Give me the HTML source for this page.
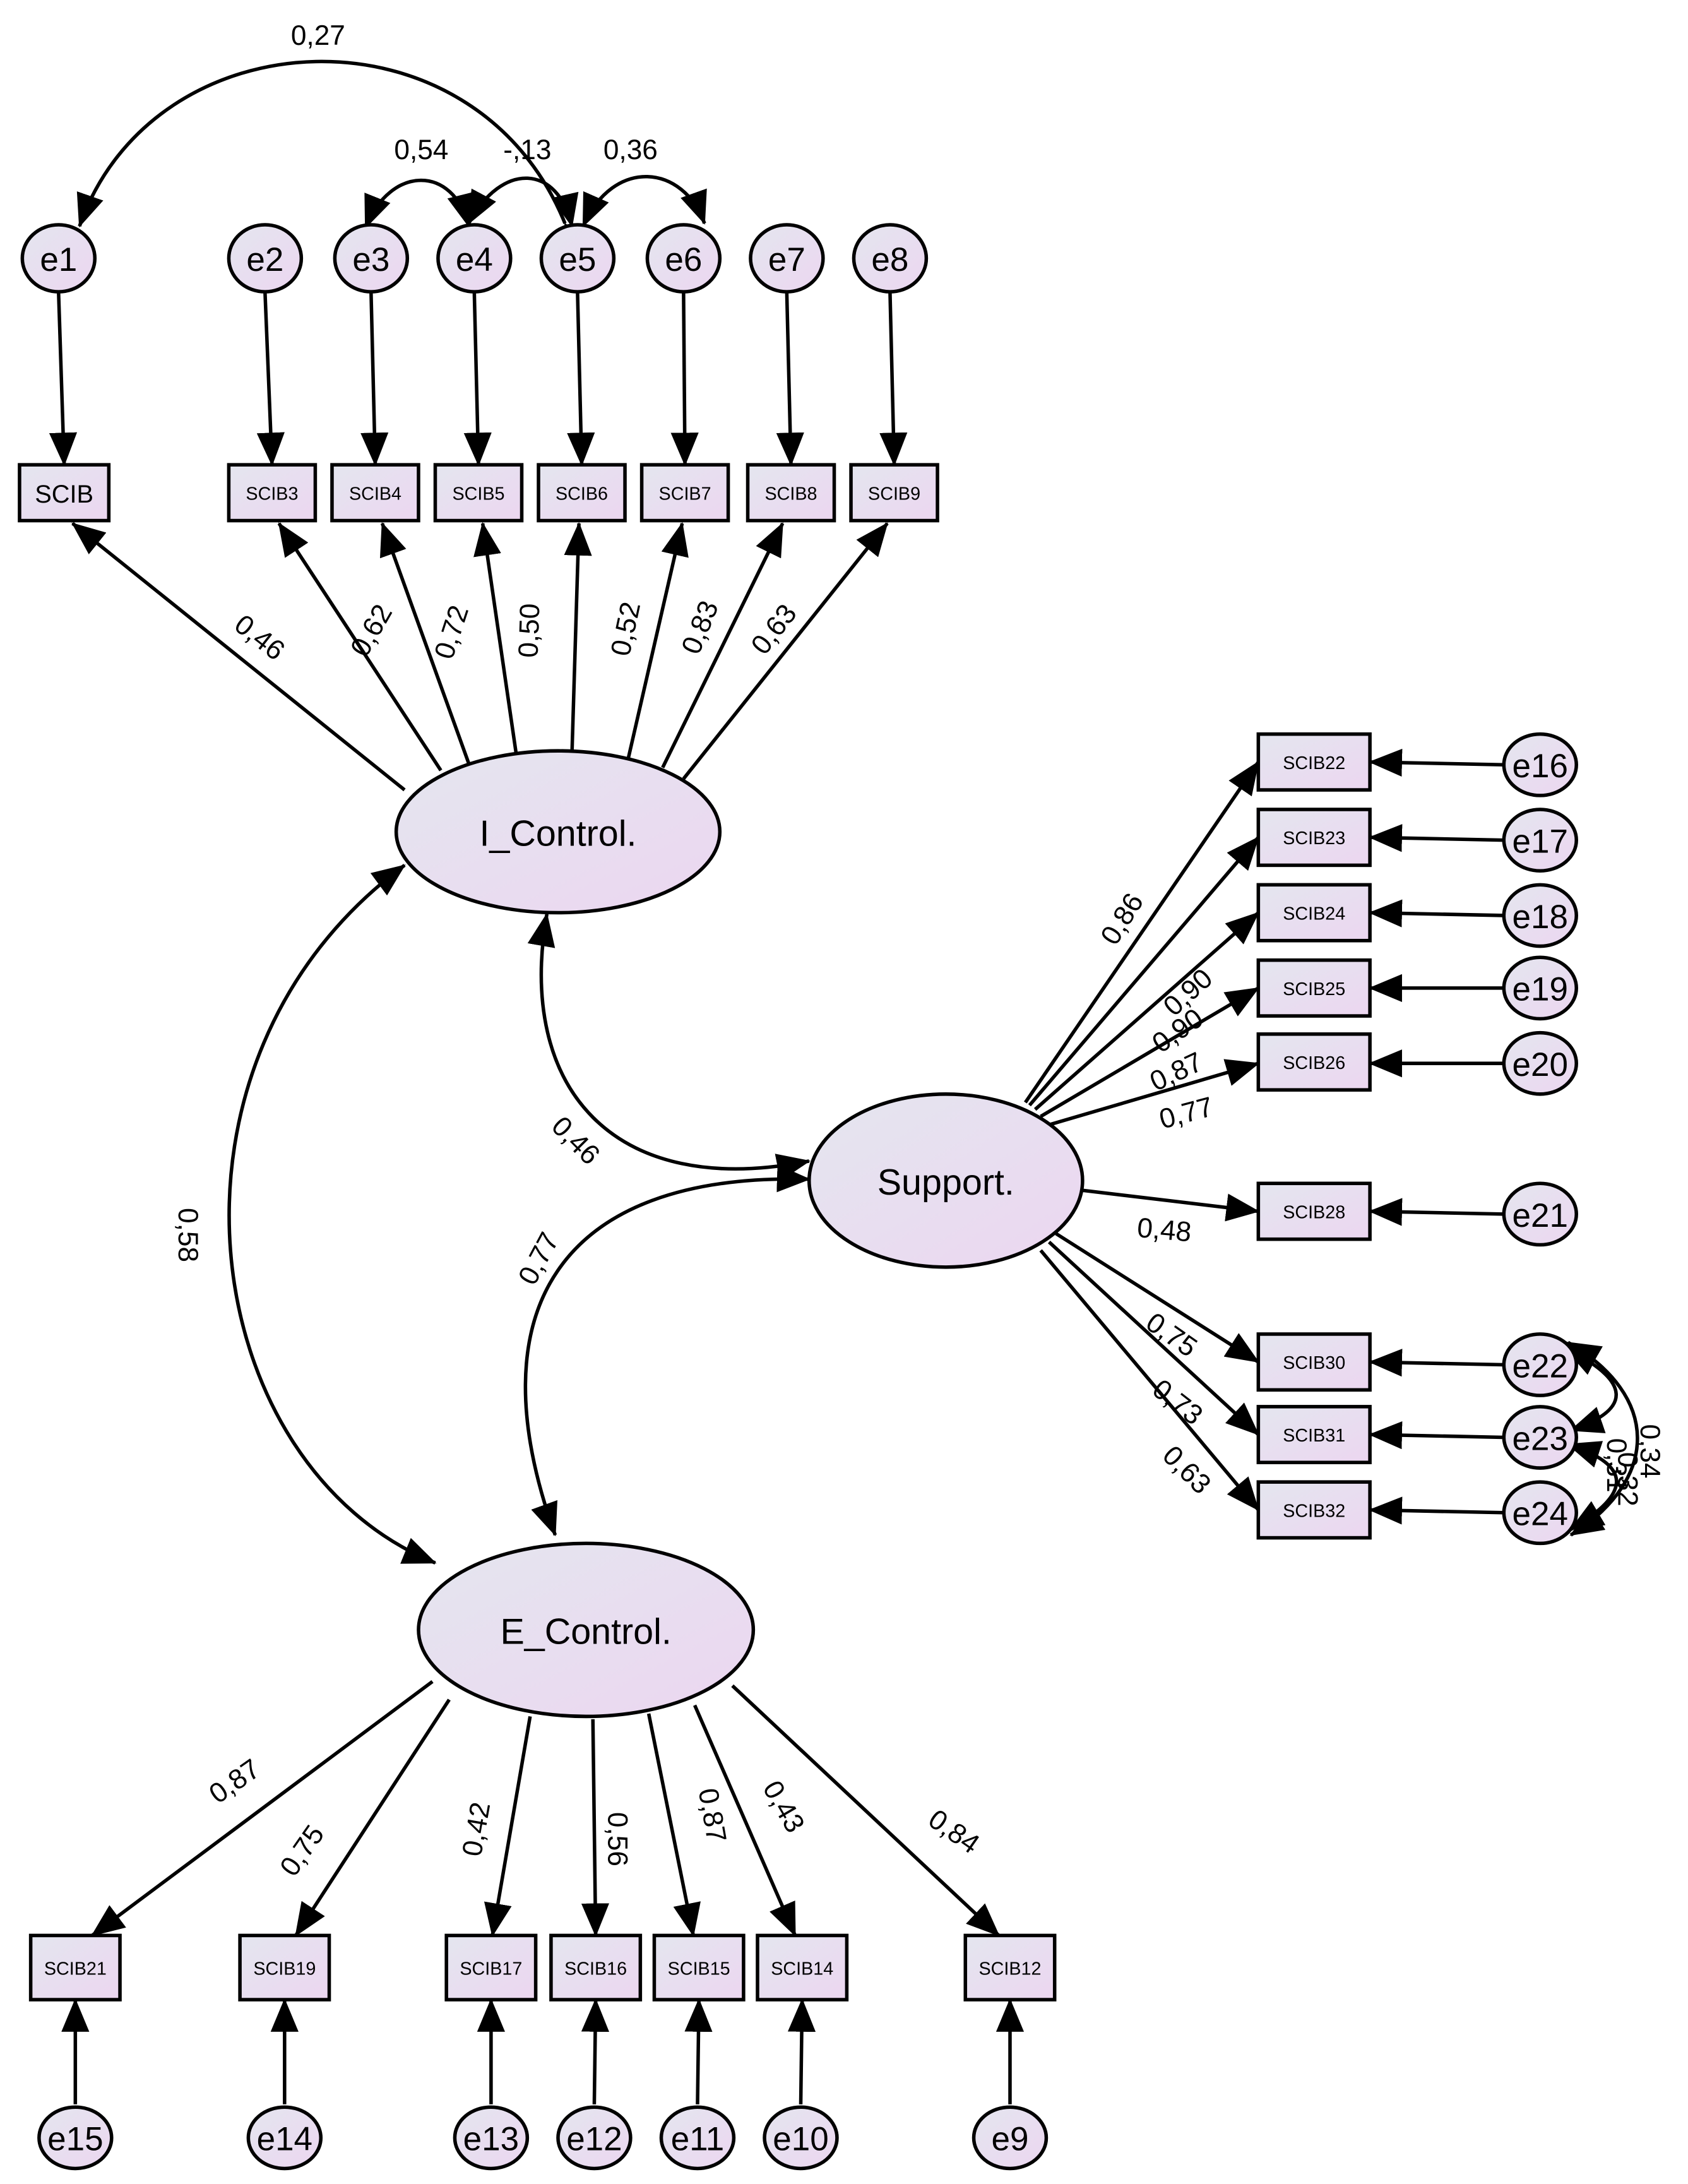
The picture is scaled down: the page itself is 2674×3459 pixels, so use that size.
<!DOCTYPE html>
<html><head><meta charset="utf-8"><style>html,body{margin:0;padding:0;background:#fff}svg{display:block}</style></head>
<body>
<svg width="2674" height="3459" viewBox="0 0 1210 1565" xmlns="http://www.w3.org/2000/svg" font-family="Liberation Sans, Arial, sans-serif">
<defs>
<linearGradient id="g" x1="0" y1="0" x2="1" y2="1"><stop offset="0" stop-color="#e4e6ef"/><stop offset="1" stop-color="#ecd6f0"/></linearGradient>
<marker id="a" markerWidth="24" markerHeight="20" refX="23" refY="10" orient="auto" markerUnits="userSpaceOnUse"><path d="M0,0 L24,10 L0,20 z" fill="#000"/></marker>
<marker id="s" markerWidth="24" markerHeight="20" refX="1" refY="10" orient="auto" markerUnits="userSpaceOnUse"><path d="M24,0 L0,10 L24,20 z" fill="#000"/></marker>
</defs>
<g stroke="#000" stroke-width="2.5" fill="none">
<!-- top error arrows -->
<line x1="42" y1="210" x2="46" y2="333" marker-end="url(#a)"/>
<line x1="190" y1="210" x2="195" y2="333" marker-end="url(#a)"/>
<line x1="266" y1="210" x2="269" y2="333" marker-end="url(#a)"/>
<line x1="340" y1="210" x2="343" y2="333" marker-end="url(#a)"/>
<line x1="414" y1="210" x2="417" y2="333" marker-end="url(#a)"/>
<line x1="490" y1="210" x2="491" y2="333" marker-end="url(#a)"/>
<line x1="564" y1="210" x2="567" y2="333" marker-end="url(#a)"/>
<line x1="638" y1="210" x2="641" y2="333" marker-end="url(#a)"/>
<!-- loadings top -->
<line x1="290" y1="566" x2="52" y2="375" marker-end="url(#a)"/>
<line x1="316" y1="552" x2="200" y2="375" marker-end="url(#a)"/>
<line x1="336" y1="547" x2="274" y2="375" marker-end="url(#a)"/>
<line x1="370" y1="540" x2="346" y2="375" marker-end="url(#a)"/>
<line x1="410" y1="540" x2="415" y2="375" marker-end="url(#a)"/>
<line x1="450" y1="545" x2="489" y2="375" marker-end="url(#a)"/>
<line x1="475" y1="550" x2="561" y2="375" marker-end="url(#a)"/>
<line x1="490" y1="558" x2="636" y2="375" marker-end="url(#a)"/>
<!-- top covariances -->
<path d="M405,160 C340,0 110,10 57,162" marker-end="url(#a)" marker-start="url(#a)"/>
<path d="M262,163 C280,118 325,118 336,162" marker-end="url(#a)" marker-start="url(#s)"/>
<path d="M336,160 C360,115 400,118 410,162" marker-end="url(#a)" marker-start="url(#s)"/>
<path d="M418,162 C440,112 490,118 505,160" marker-end="url(#a)" marker-start="url(#s)"/>
<!-- factor covariances -->
<path d="M290,620 C100,760 140,1050 312,1120" marker-end="url(#a)" marker-start="url(#s)"/>
<path d="M392,655 C370,780 440,860 580,832" marker-end="url(#a)" marker-start="url(#s)"/>
<path d="M398,1100 C340,940 400,840 580,845" marker-end="url(#a)" marker-start="url(#s)"/>
<!-- support loadings -->
<line x1="735" y1="790" x2="902" y2="546" marker-end="url(#a)"/>
<line x1="738" y1="792" x2="902" y2="600" marker-end="url(#a)"/>
<line x1="742" y1="795" x2="902" y2="654" marker-end="url(#a)"/>
<line x1="746" y1="800" x2="902" y2="708" marker-end="url(#a)"/>
<line x1="752" y1="806" x2="902" y2="762" marker-end="url(#a)"/>
<line x1="776" y1="853" x2="902" y2="868" marker-end="url(#a)"/>
<line x1="757" y1="884" x2="902" y2="976" marker-end="url(#a)"/>
<line x1="752" y1="890" x2="902" y2="1028" marker-end="url(#a)"/>
<line x1="746" y1="896" x2="902" y2="1082" marker-end="url(#a)"/>
<!-- right errors -->
<line x1="1078" y1="548" x2="982" y2="546" marker-end="url(#a)"/>
<line x1="1078" y1="602" x2="982" y2="600" marker-end="url(#a)"/>
<line x1="1078" y1="656" x2="982" y2="654" marker-end="url(#a)"/>
<line x1="1078" y1="708" x2="982" y2="708" marker-end="url(#a)"/>
<line x1="1078" y1="762" x2="982" y2="762" marker-end="url(#a)"/>
<line x1="1078" y1="870" x2="982" y2="868" marker-end="url(#a)"/>
<line x1="1078" y1="978" x2="982" y2="976" marker-end="url(#a)"/>
<line x1="1078" y1="1030" x2="982" y2="1028" marker-end="url(#a)"/>
<line x1="1078" y1="1084" x2="982" y2="1082" marker-end="url(#a)"/>
<path d="M1122,966 C1170,990 1170,1010 1126,1025" marker-end="url(#a)" marker-start="url(#s)"/>
<path d="M1124,1035 C1170,1050 1170,1070 1126,1096" marker-end="url(#a)" marker-start="url(#s)"/>
<path d="M1124,962 C1190,1000 1190,1060 1126,1100" marker-end="url(#a)" marker-start="url(#s)"/>
<!-- bottom loadings -->
<line x1="310" y1="1205" x2="66" y2="1387" marker-end="url(#a)"/>
<line x1="322" y1="1218" x2="212" y2="1387" marker-end="url(#a)"/>
<line x1="380" y1="1230" x2="353" y2="1387" marker-end="url(#a)"/>
<line x1="425" y1="1232" x2="427" y2="1387" marker-end="url(#a)"/>
<line x1="465" y1="1228" x2="497" y2="1387" marker-end="url(#a)"/>
<line x1="498" y1="1222" x2="570" y2="1387" marker-end="url(#a)"/>
<line x1="525" y1="1208" x2="716" y2="1387" marker-end="url(#a)"/>
<!-- bottom errors -->
<line x1="54" y1="1508" x2="54" y2="1433" marker-end="url(#a)"/>
<line x1="204" y1="1508" x2="204" y2="1433" marker-end="url(#a)"/>
<line x1="352" y1="1508" x2="352" y2="1433" marker-end="url(#a)"/>
<line x1="426" y1="1508" x2="427" y2="1433" marker-end="url(#a)"/>
<line x1="500" y1="1508" x2="501" y2="1433" marker-end="url(#a)"/>
<line x1="574" y1="1508" x2="575" y2="1433" marker-end="url(#a)"/>
<line x1="724" y1="1508" x2="724" y2="1433" marker-end="url(#a)"/>
</g>
<!-- nodes -->
<g stroke="#000" stroke-width="2.5" fill="url(#g)">
<ellipse cx="400" cy="596" rx="116" ry="58"/>
<ellipse cx="678" cy="846" rx="98" ry="62"/>
<ellipse cx="420" cy="1168" rx="120" ry="62"/>
<g id="tc">
<ellipse cx="42" cy="185" rx="26" ry="24"/><ellipse cx="190" cy="185" rx="26" ry="24"/><ellipse cx="266" cy="185" rx="26" ry="24"/><ellipse cx="340" cy="185" rx="26" ry="24"/><ellipse cx="414" cy="185" rx="26" ry="24"/><ellipse cx="490" cy="185" rx="26" ry="24"/><ellipse cx="564" cy="185" rx="26" ry="24"/><ellipse cx="638" cy="185" rx="26" ry="24"/>
</g>
<rect x="14" y="333" width="64" height="40"/><rect x="164" y="333" width="62" height="40"/><rect x="238" y="333" width="62" height="40"/><rect x="312" y="333" width="62" height="40"/><rect x="386" y="333" width="62" height="40"/><rect x="460" y="333" width="62" height="40"/><rect x="536" y="333" width="62" height="40"/><rect x="610" y="333" width="62" height="40"/>
<rect x="902" y="526" width="80" height="40"/><rect x="902" y="580" width="80" height="40"/><rect x="902" y="634" width="80" height="40"/><rect x="902" y="688" width="80" height="40"/><rect x="902" y="741" width="80" height="40"/><rect x="902" y="848" width="80" height="40"/><rect x="902" y="956" width="80" height="40"/><rect x="902" y="1008" width="80" height="40"/><rect x="902" y="1062" width="80" height="40"/>
<ellipse cx="1104" cy="548" rx="26" ry="22"/><ellipse cx="1104" cy="602" rx="26" ry="22"/><ellipse cx="1104" cy="656" rx="26" ry="22"/><ellipse cx="1104" cy="708" rx="26" ry="22"/><ellipse cx="1104" cy="762" rx="26" ry="22"/><ellipse cx="1104" cy="870" rx="26" ry="22"/><ellipse cx="1104" cy="978" rx="26" ry="22"/><ellipse cx="1104" cy="1030" rx="26" ry="22"/><ellipse cx="1104" cy="1084" rx="26" ry="22"/>
<rect x="22" y="1387" width="64" height="46"/><rect x="172" y="1387" width="64" height="46"/><rect x="320" y="1387" width="64" height="46"/><rect x="395" y="1387" width="64" height="46"/><rect x="469" y="1387" width="64" height="46"/><rect x="543" y="1387" width="64" height="46"/><rect x="692" y="1387" width="64" height="46"/>
<ellipse cx="54" cy="1532" rx="26" ry="22"/><ellipse cx="204" cy="1532" rx="26" ry="22"/><ellipse cx="352" cy="1532" rx="26" ry="22"/><ellipse cx="426" cy="1532" rx="26" ry="22"/><ellipse cx="500" cy="1532" rx="26" ry="22"/><ellipse cx="574" cy="1532" rx="26" ry="22"/><ellipse cx="724" cy="1532" rx="26" ry="22"/>
</g>
<g fill="#000" text-anchor="middle">
<g font-size="26"><text x="400" y="606">I_Control.</text><text x="678" y="856">Support.</text><text x="420" y="1178">E_Control.</text></g>
<g font-size="24">
<text x="42" y="194">e1</text><text x="190" y="194">e2</text><text x="266" y="194">e3</text><text x="340" y="194">e4</text><text x="414" y="194">e5</text><text x="490" y="194">e6</text><text x="564" y="194">e7</text><text x="638" y="194">e8</text>
<text x="1104" y="557">e16</text><text x="1104" y="611">e17</text><text x="1104" y="665">e18</text><text x="1104" y="717">e19</text><text x="1104" y="771">e20</text><text x="1104" y="879">e21</text><text x="1104" y="987">e22</text><text x="1104" y="1039">e23</text><text x="1104" y="1093">e24</text>
<text x="54" y="1541">e15</text><text x="204" y="1541">e14</text><text x="352" y="1541">e13</text><text x="426" y="1541">e12</text><text x="500" y="1541">e11</text><text x="574" y="1541">e10</text><text x="724" y="1541">e9</text>
</g>
<text x="46" y="360" font-size="18">SCIB</text>
<g font-size="13">
<text x="195" y="358">SCIB3</text><text x="269" y="358">SCIB4</text><text x="343" y="358">SCIB5</text><text x="417" y="358">SCIB6</text><text x="491" y="358">SCIB7</text><text x="567" y="358">SCIB8</text><text x="641" y="358">SCIB9</text>
<text x="942" y="551">SCIB22</text><text x="942" y="605">SCIB23</text><text x="942" y="659">SCIB24</text><text x="942" y="713">SCIB25</text><text x="942" y="766">SCIB26</text><text x="942" y="873">SCIB28</text><text x="942" y="981">SCIB30</text><text x="942" y="1033">SCIB31</text><text x="942" y="1087">SCIB32</text>
<text x="54" y="1415">SCIB21</text><text x="204" y="1415">SCIB19</text><text x="352" y="1415">SCIB17</text><text x="427" y="1415">SCIB16</text><text x="501" y="1415">SCIB15</text><text x="575" y="1415">SCIB14</text><text x="724" y="1415">SCIB12</text>
</g>
<g font-size="20">
<text x="228" y="32">0,27</text><text x="302" y="114">0,54</text><text x="378" y="114">-,13</text><text x="452" y="114">0,36</text>
<text transform="translate(182,462) rotate(38)">0,46</text>
<text transform="translate(272,455) rotate(-60)">0,62</text>
<text transform="translate(330,455) rotate(-72)">0,72</text>
<text transform="translate(386,452) rotate(-88)">0,50</text>
<text transform="translate(455,452) rotate(-78)">0,52</text>
<text transform="translate(508,452) rotate(-68)">0,83</text>
<text transform="translate(560,455) rotate(-52)">0,63</text>
<text transform="translate(408,822) rotate(45)">0,46</text>
<text transform="translate(392,905) rotate(-62)">0,77</text>
<text transform="translate(128,885) rotate(90)">0,58</text>
<text transform="translate(810,662) rotate(-58)">0,86</text>
<text transform="translate(856,716) rotate(-42)">0,90</text>
<text transform="translate(848,744) rotate(-35)">0,90</text>
<text transform="translate(846,774) rotate(-25)">0,87</text>
<text transform="translate(852,804) rotate(-15)">0,77</text>
<text transform="translate(834,888) rotate(5)">0,48</text>
<text transform="translate(836,962) rotate(35)">0,75</text>
<text transform="translate(840,1010) rotate(38)">0,73</text>
<text transform="translate(846,1058) rotate(45)">0,63</text>
<text transform="translate(1176,1040) rotate(90)">0,34</text>
<text transform="translate(1152,1050) rotate(90)">0,31</text>
<text transform="translate(1160,1060) rotate(90)">0,32</text>
<text transform="translate(172,1282) rotate(-35)">0,87</text>
<text transform="translate(222,1330) rotate(-55)">0,75</text>
<text transform="translate(348,1312) rotate(-80)">0,42</text>
<text transform="translate(436,1318) rotate(90)">0,56</text>
<text transform="translate(504,1302) rotate(80)">0,87</text>
<text transform="translate(556,1298) rotate(60)">0,43</text>
<text transform="translate(680,1318) rotate(35)">0,84</text>
</g>
</g>
</svg>
</body></html>
